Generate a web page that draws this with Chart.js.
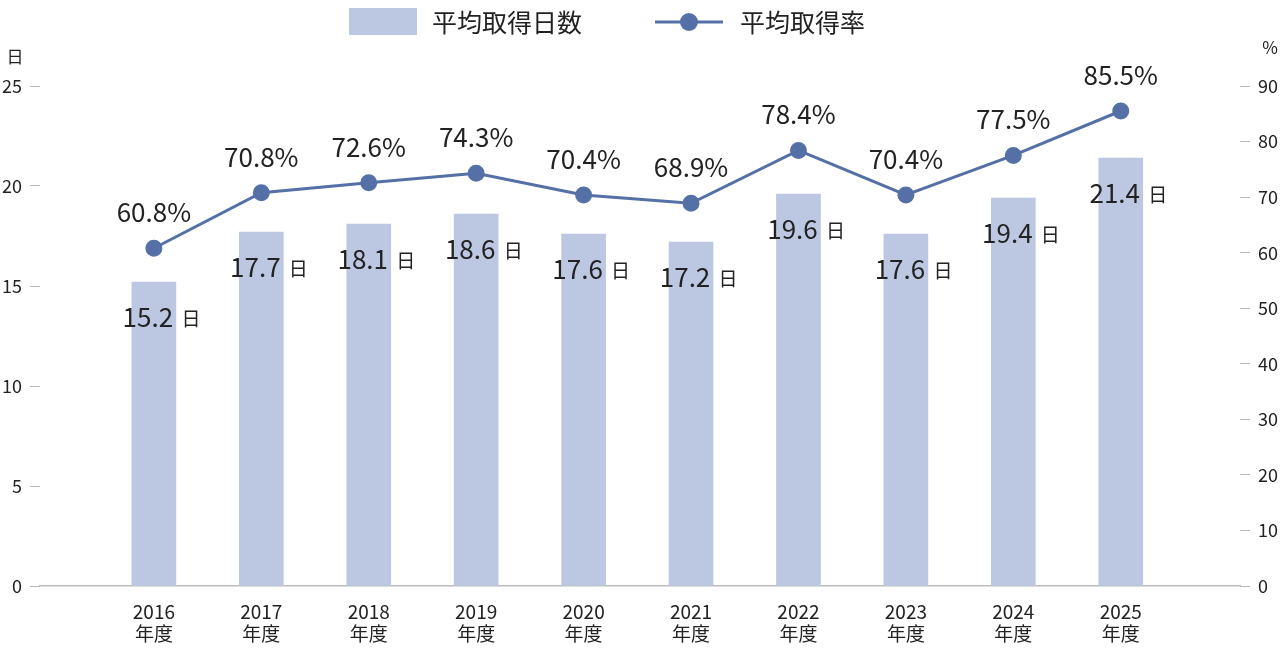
<!DOCTYPE html>
<html><head><meta charset="utf-8">
<script src="https://cdn.jsdelivr.net/npm/chart.js@4"></script>
<style>html,body{margin:0;background:#fff}#wrap{width:1288px;height:656px}</style>
</head><body><div id="wrap"><canvas id="c"></canvas></div>
<script>
const years = ["2016","2017","2018","2019","2020","2021","2022","2023","2024","2025"];
const days = [15.2,17.7,18.1,18.6,17.6,17.2,19.6,17.6,19.4,21.4];
const rates = [60.8,70.8,72.6,74.3,70.4,68.9,78.4,70.4,77.5,85.5];
const BAR = "#bcc7e2", LINE = "#5570a7", TXT = "#222";
const FONT = "'Noto Sans CJK JP', 'Noto Sans', sans-serif";

const labelsPlugin = {
  id: "labels",
  afterDatasetsDraw(chart) {
    const ctx = chart.ctx;
    ctx.save();
    ctx.fillStyle = TXT;
    // day labels
    chart.getDatasetMeta(0).data.forEach((b, i) => {
      ctx.font = "26px " + FONT;
      ctx.textAlign = "center"; ctx.textBaseline = "middle";
      ctx.fillText(days[i].toFixed(1), b.x - 6, b.y + 35);
      ctx.font = "19px " + FONT;
      ctx.fillText("日", b.x + 37, b.y + 37);
    });
    chart.getDatasetMeta(1).data.forEach((p, i) => {
      ctx.font = "26px " + FONT;
      ctx.textAlign = "center"; ctx.textBaseline = "middle";
      ctx.fillText(rates[i].toFixed(1) + "%", p.x, p.y - 36);
    });
    // units
    ctx.font = "17px " + FONT;
    ctx.fillText("日", 15, 57);
    ctx.fillText("%", 1270, 48);
    // legend
    ctx.fillStyle = BAR; ctx.fillRect(349, 8, 68, 27);
    ctx.fillStyle = TXT; ctx.font = "25px " + FONT; ctx.textAlign = "left";
    ctx.fillText("平均取得日数", 432, 22);
    ctx.strokeStyle = LINE; ctx.lineWidth = 3;
    ctx.beginPath(); ctx.moveTo(655, 22); ctx.lineTo(723, 22); ctx.stroke();
    ctx.fillStyle = LINE; ctx.beginPath(); ctx.arc(689, 22, 9, 0, Math.PI * 2); ctx.fill();
    ctx.fillStyle = TXT; ctx.fillText("平均取得率", 740, 22);
    ctx.restore();
  }
};

new Chart(document.getElementById("c"), {
  data: {
    datasets: [
      { type: "bar", data: days.map((v, i) => ({ x: i, y: v })), backgroundColor: BAR, barThickness: 44, yAxisID: "y", order: 2 },
      { type: "line", data: rates.map((v, i) => ({ x: i, y: v })), borderColor: LINE, borderWidth: 3, pointRadius: 7, pointBackgroundColor: LINE, pointBorderColor: LINE, yAxisID: "y1", order: 1 }
    ]
  },
  options: {
    responsive: true, maintainAspectRatio: false, animation: false,
    layout: { padding: { top: 86, left: 0, right: 0, bottom: 0 } },
    plugins: { legend: { display: false }, tooltip: { enabled: false } },
    scales: {
      x: {
        type: "linear", min: -1.06, max: 10.11, offset: false,
        afterBuildTicks: (s) => { s.ticks = years.map((_, i) => ({ value: i })); },
        afterFit: (s) => { s.height = 70; },
        ticks: { callback: (v) => [years[v], "年度"], color: TXT, font: { size: 19, family: FONT, lineHeight: 1.2 }, maxRotation: 0, autoSkip: false, padding: 6 },
        grid: { display: false, offset: false },
        border: { display: true, color: "#bbb", width: 1.5 }
      },
      y: {
        position: "left", min: 0, max: 25,
        afterFit: (s) => { s.width = 40; },
        ticks: { stepSize: 5, color: TXT, font: { size: 18, family: FONT }, padding: 8 },
        grid: { drawOnChartArea: false, tickLength: 10, color: "#bbb" },
        border: { display: false }
      },
      y1: {
        position: "right", min: 0, max: 90,
        afterFit: (s) => { s.width = 48; },
        ticks: { stepSize: 10, color: TXT, font: { size: 18, family: FONT }, padding: 8 },
        grid: { drawOnChartArea: false, tickLength: 10, color: "#bbb" },
        border: { display: false }
      }
    }
  },
  plugins: [labelsPlugin]
});
</script></body></html>
